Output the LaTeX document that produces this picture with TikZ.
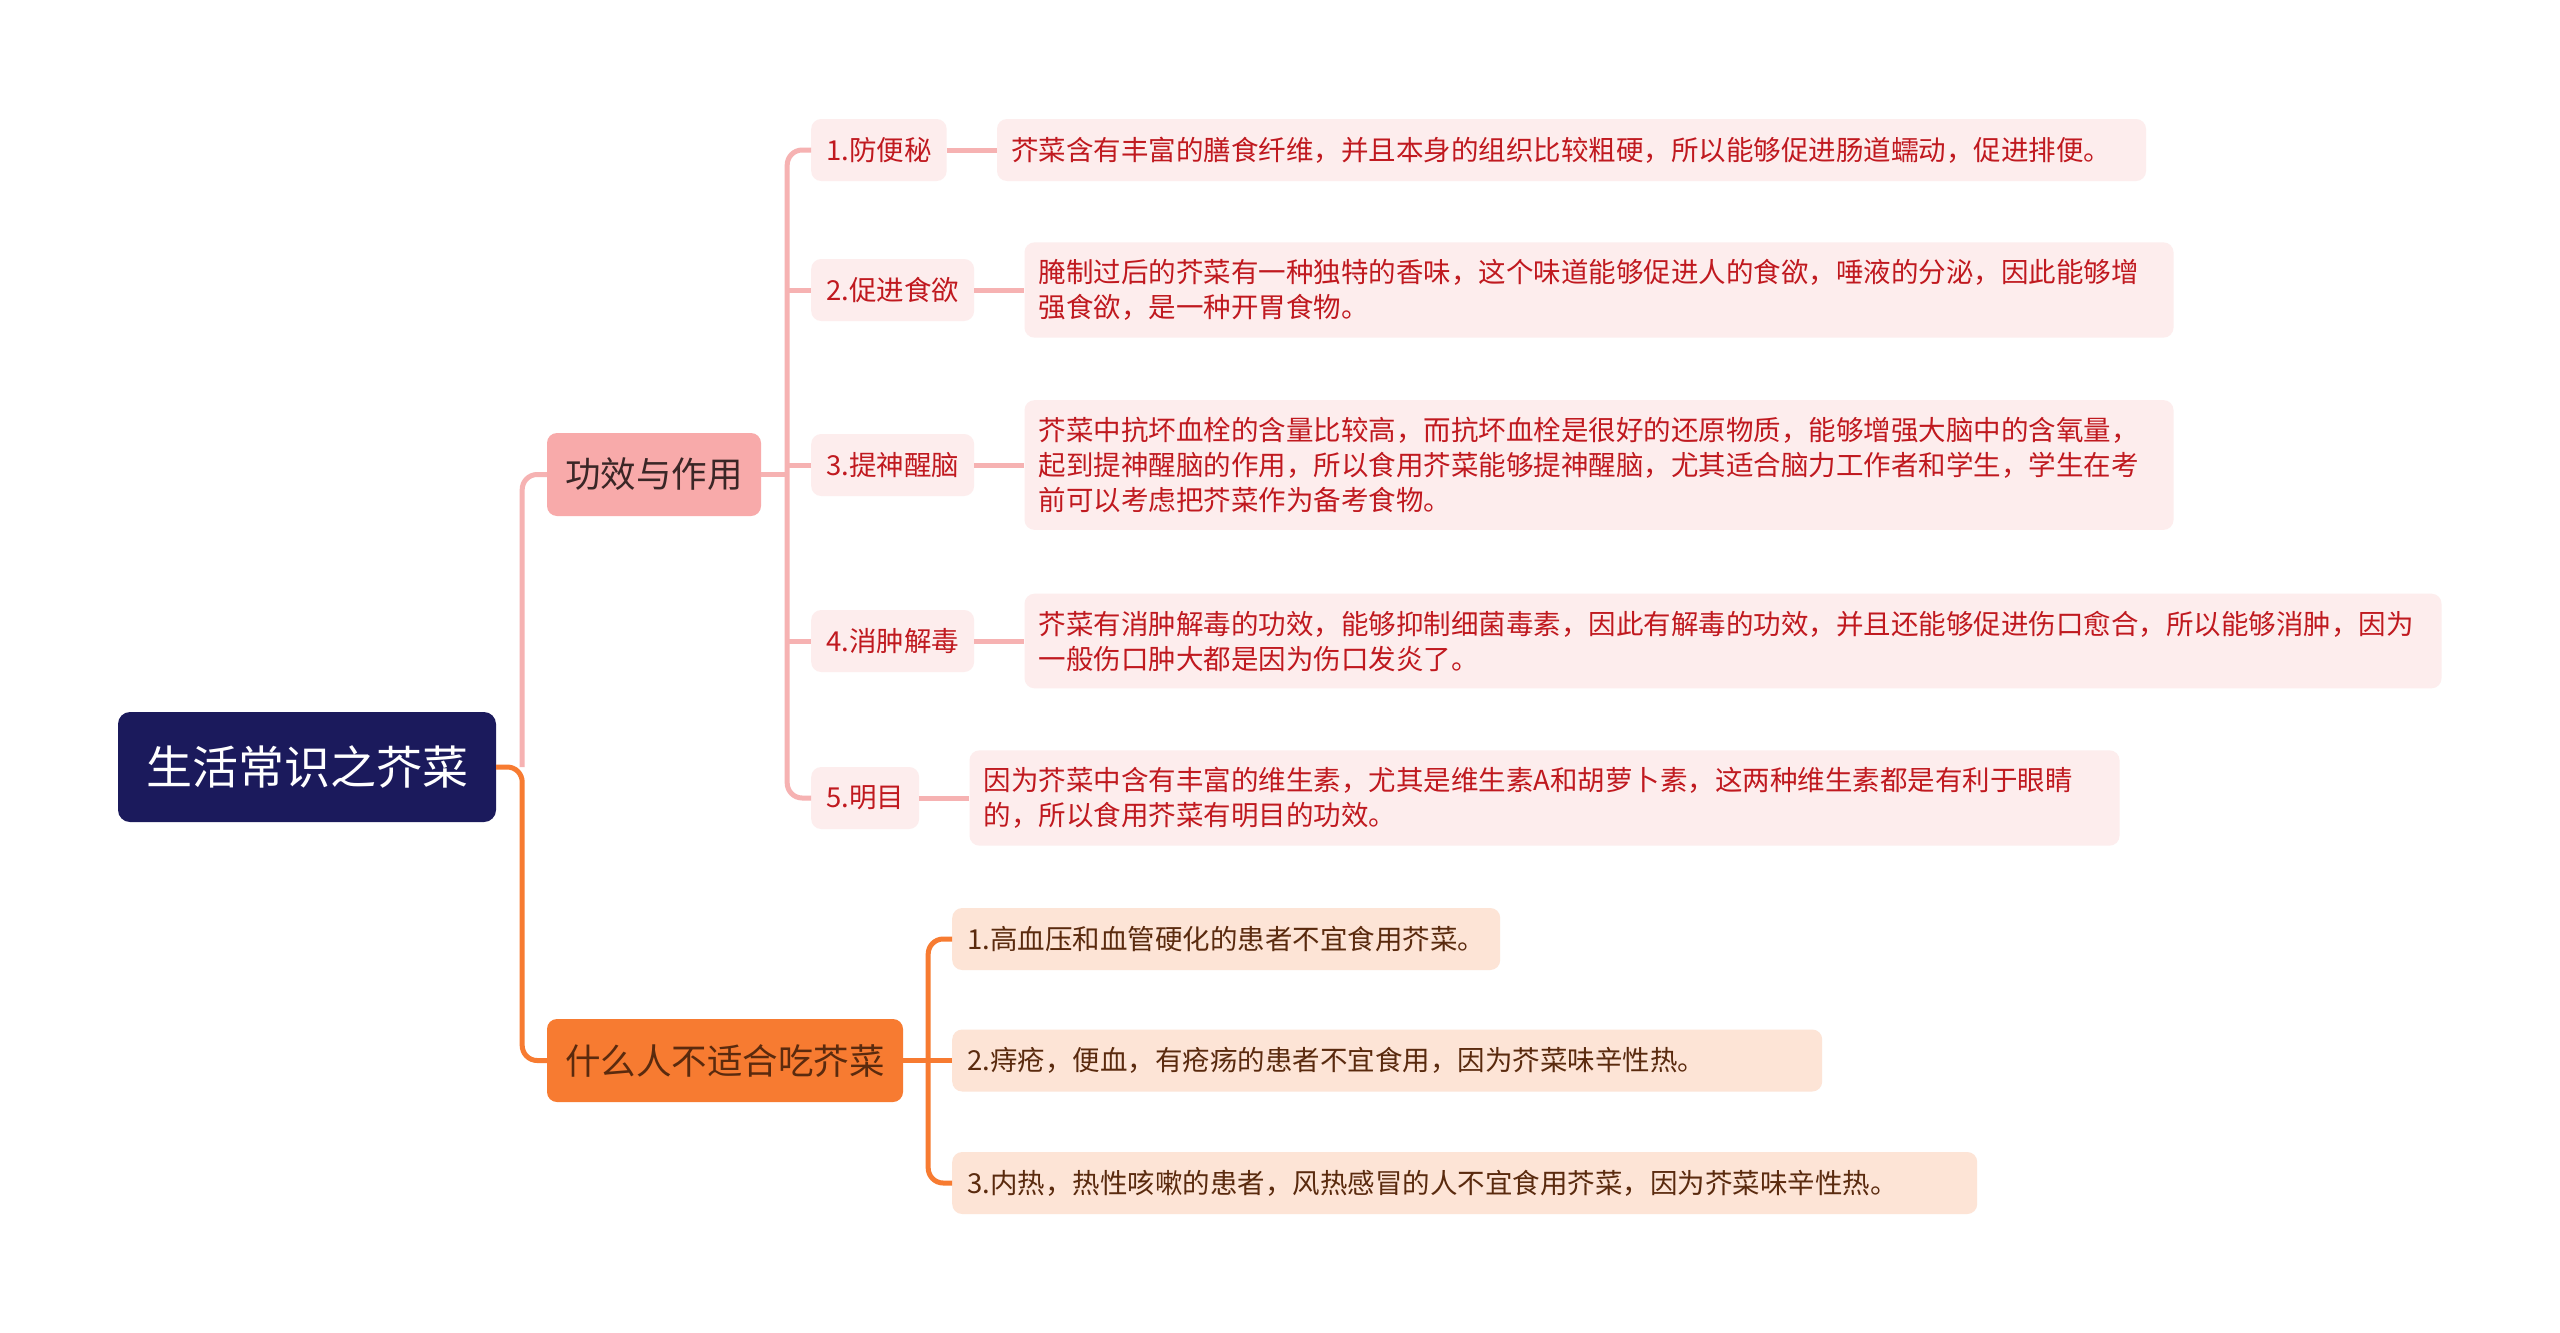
\documentclass[tikz,border=0pt]{standalone}
\usepackage{fontspec}
\setmainfont{Noto Sans CJK SC}
\usetikzlibrary{positioning,calc}
\definecolor{night}{HTML}{1B1A5C}
\definecolor{rose}{HTML}{F8AAAA}
\definecolor{roseline}{HTML}{F6B2B2}
\definecolor{roselight}{HTML}{FDEDED}
\definecolor{crimson}{HTML}{C0191F}
\definecolor{tangerine}{HTML}{F77B31}
\definecolor{peach}{HTML}{FDE4D6}
\definecolor{umber}{HTML}{5A2A0E}
\definecolor{ink}{HTML}{3A2626}
\tikzset{
  rootbox/.style={rectangle, rounded corners=12pt, fill=night, text=white, inner sep=0pt,
                  minimum width=378pt, minimum height=110pt, font=\fontsize{46}{50}\selectfont},
  mainbox/.style={rectangle, rounded corners=10pt, inner sep=0pt, minimum height=83pt,
                  font=\fontsize{35.5}{40}\selectfont},
  funcbox/.style={mainbox, fill=rose, text=ink},
  avoidbox/.style={mainbox, fill=tangerine, text=umber},
  leafbox/.style={rectangle, rounded corners=10pt, fill=roselight, text=crimson, inner xsep=15pt,
                  inner ysep=0pt, minimum height=62pt, font=\fontsize{27.5}{35}\selectfont},
  detbox/.style={leafbox, inner xsep=14pt, inner ysep=17pt, align=left},
  peachbox/.style={leafbox, fill=peach, text=umber, align=left},
  roseflow/.style={draw=roseline, line width=5pt, rounded corners=15pt},
  tangflow/.style={draw=tangerine, line width=5pt, rounded corners=15pt},
}
\begin{document}
\begin{tikzpicture}[x=1pt, y=-1pt]
\useasboundingbox[fill=white] (0,0) rectangle (2560,1333);

% root and the two main branches
\node[rootbox] (root) at (307,767) {生活常识之芥菜};
\node[funcbox, minimum width=214pt] (func) at (654,474.5) {功效与作用};
\node[avoidbox, minimum width=356pt] (avoid) at (725,1060.5) {什么人不适合吃芥菜};

% effects
\node[leafbox, anchor=west] (l1) at (811,150) {1.防便秘};
\node[leafbox, anchor=west] (l2) at (811,290) {2.促进食欲};
\node[leafbox, anchor=west] (l3) at (811,465) {3.提神醒脑};
\node[leafbox, anchor=west] (l4) at (811,641) {4.消肿解毒};
\node[leafbox, anchor=west] (l5) at (811,798) {5.明目};

\node[detbox, text width=1121pt, right=50pt of l1] (d1)
 {芥菜含有丰富的膳食纤维，并且本身的组织比较粗硬，所以能够促进肠道蠕动，促进排便。};
\node[detbox, text width=1121pt, right=50pt of l2] (d2)
 {腌制过后的芥菜有一种独特的香味，这个味道能够促进人的食欲，唾液的分泌，因此能够增\\
  强食欲，是一种开胃食物。};
\node[detbox, text width=1121pt, right=50pt of l3] (d3)
 {芥菜中抗坏血栓的含量比较高，而抗坏血栓是很好的还原物质，能够增强大脑中的含氧量，\\
  起到提神醒脑的作用，所以食用芥菜能够提神醒脑，尤其适合脑力工作者和学生，学生在考\\
  前可以考虑把芥菜作为备考食物。};
\node[detbox, text width=1389pt, right=50pt of l4] (d4)
 {芥菜有消肿解毒的功效，能够抑制细菌毒素，因此有解毒的功效，并且还能够促进伤口愈合，所以能够消肿，因为\\
  一般伤口肿大都是因为伤口发炎了。};
\node[detbox, text width=1122pt, right=50pt of l5] (d5)
 {因为芥菜中含有丰富的维生素，尤其是维生素A和胡萝卜素，这两种维生素都是有利于眼睛\\
  的，所以食用芥菜有明目的功效。};

% who should not eat it
\node[peachbox, anchor=west, text width=518pt] (o1) at (952,939) {1.高血压和血管硬化的患者不宜食用芥菜。};
\node[peachbox, anchor=west, text width=840pt] (o2) at (952,1060.5) {2.痔疮，便血，有疮疡的患者不宜食用，因为芥菜味辛性热。};
\node[peachbox, anchor=west, text width=995pt] (o3) at (952,1183) {3.内热，热性咳嗽的患者，风热感冒的人不宜食用芥菜，因为芥菜味辛性热。};

% connectors
\coordinate (rj) at ($(root.east)+(26,0)$);
\coordinate (fj) at ($(func.east)+(26,0)$);
\coordinate (aj) at ($(avoid.east)+(25,0)$);
\draw[roseflow] (func.west) -| (rj);
\draw[tangflow] (root.east) -- (rj) |- (avoid.west);
\draw[roseflow] (l1.west) -| (fj) |- (l5.west);
\draw[roseflow] (func.east) -- (fj);
\foreach \i in {2,3,4} \draw[roseflow] (fj |- l\i.west) -- (l\i.west);
\foreach \i in {1,...,5} \draw[roseflow] (l\i.east) -- (d\i.west);
\draw[tangflow] (o1.west) -| (aj) |- (o3.west);
\draw[tangflow] (avoid.east) -- (aj) -- (o2.west);
\end{tikzpicture}
\end{document}
